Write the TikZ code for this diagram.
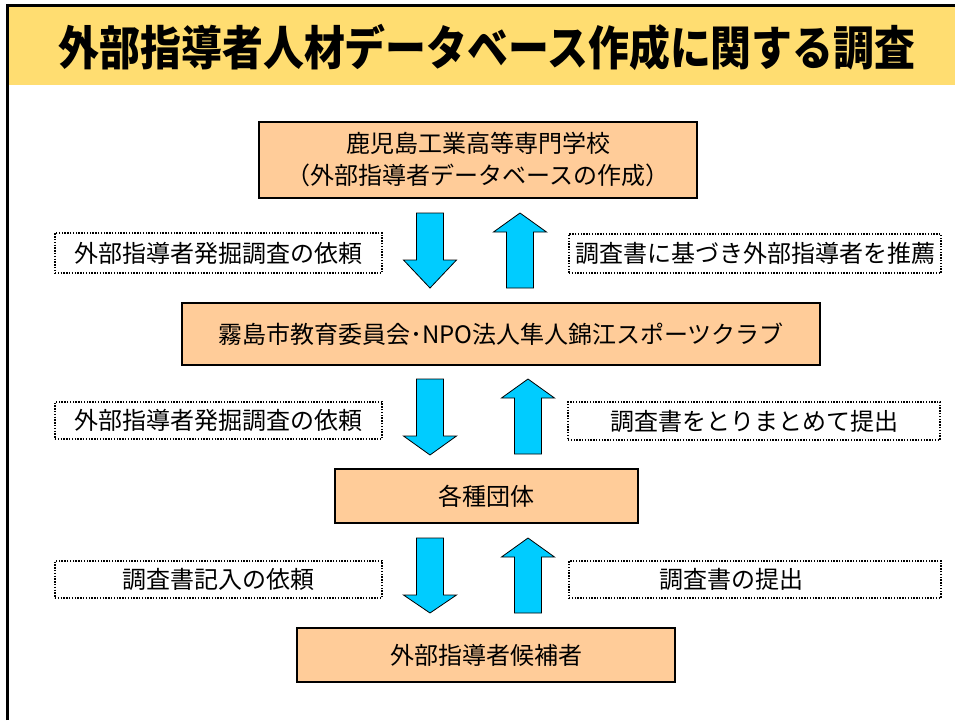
\documentclass[tikz,border=0pt]{standalone}
\usepackage{fontspec}
\usepackage{graphicx}
\newfontfamily\jp{Noto Sans CJK JP}
\definecolor{hdr}{HTML}{FFDD71}
\definecolor{boxfill}{HTML}{FFCC99}
\definecolor{arrfill}{HTML}{00CCFF}
\tikzset{
  mainbox/.style={draw=black, line width=1.6pt, fill=boxfill, rectangle, inner sep=0pt,
    font=\jp\fontsize{24}{32}\selectfont, align=center},
  notebox/.style={draw=black, line width=1.4pt, dash pattern=on 1.4pt off 1.4pt, rectangle,
    inner sep=0pt, font=\jp\fontsize{24}{28}\selectfont},
  blk/.style={draw=black, line width=0.8pt, fill=arrfill, line join=miter}
}
\newcommand\BlkDown[4]{% cx, top, base, tip
  \draw[blk, shift={(#1,0)}] (-13.5,#2) -- (13.5,#2) -- (13.5,#3) -- (26.5,#3) -- (0,#4) -- (-26.5,#3) -- (-13.5,#3) -- cycle;}
\newcommand\BlkUp[4]{% cx, bottom, base, tip
  \draw[blk, shift={(#1,0)}] (-13.5,#2) -- (13.5,#2) -- (13.5,#3) -- (26.5,#3) -- (0,#4) -- (-26.5,#3) -- (-13.5,#3) -- cycle;}
\begin{document}
\begin{tikzpicture}[x=1pt,y=-1pt]
\useasboundingbox (0,0) rectangle (955,720);
\fill[white] (0,0) rectangle (955,720);
% header
\fill[hdr] (8,6) rectangle (955,85);
\draw[line width=3pt] (7,720) -- (7,5) -- (955,5);
\node[font=\jp\bfseries\fontsize{47}{47}\selectfont, inner sep=0pt] (title) at (487,47)
  {\scalebox{0.87}[1]{外部指導者人材データベース作成に関する調査}};
% main boxes
\node[mainbox, minimum width=438pt, minimum height=76pt] (b1) at (478,160)
  {鹿児島工業高等専門学校\\（外部指導者データベースの作成）};
\node[mainbox, minimum width=638pt, minimum height=62pt] (b2) at (501,334)
  {霧島市教育委員会･NPO法人隼人錦江スポーツクラブ};
\node[mainbox, minimum width=303pt, minimum height=54pt] (b3) at (486.5,496)
  {各種団体};
\node[mainbox, minimum width=378pt, minimum height=54pt] (b4) at (486,655)
  {外部指導者候補者};
% note boxes
\node[notebox, minimum width=327pt, minimum height=40pt] (l1) at (218.5,253) {外部指導者発掘調査の依頼};
\node[notebox, minimum width=372pt, minimum height=39pt] (r1) at (755,253.5) {調査書に基づき外部指導者を推薦};
\node[notebox, minimum width=327pt, minimum height=37pt] (l2) at (218.5,420.5) {外部指導者発掘調査の依頼};
\node[notebox, minimum width=372pt, minimum height=38pt] (r2) at (754,421) {調査書をとりまとめて提出};
\node[notebox, minimum width=327pt, minimum height=37pt] (l3) at (218.5,579.5) {調査書記入の依頼};
\node[notebox, minimum width=372pt, minimum height=37pt] (r3) at (755,579.5) {調査書の提出\hspace*{48pt}};
% block arrows
\BlkDown{430}{213}{260}{288}
\BlkUp{520}{288}{232}{213}
\BlkDown{430}{379}{436}{455}
\BlkUp{528}{454}{398}{379}
\BlkDown{430}{538}{595}{613}
\BlkUp{528}{613}{557}{538}
\end{tikzpicture}
\end{document}
